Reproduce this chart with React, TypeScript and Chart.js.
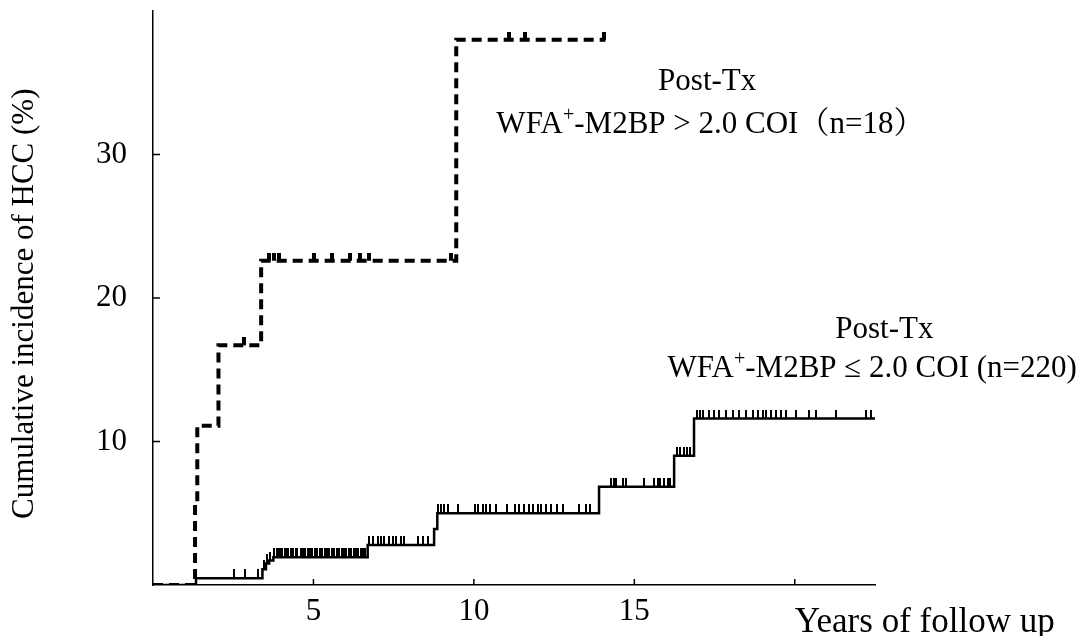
import React, { useEffect, useRef } from 'react';
import { Chart, registerables } from 'chart.js';

Chart.register(...registerables);

// ---- data ----
const highTimes = [0, 1.31, 1.38, 2.04, 3.37, 9.45, 14.1];
const highIncidence = [0, 5.6, 11.1, 16.7, 22.6, 38.0, 38.0];
const highCensorTimes = [2.85, 3.6, 3.78, 3.93, 5.01, 5.58, 6.15, 6.45, 6.72, 9.29, 11.1, 11.6, 14.05];

const lowTimes = [0, 1.34, 3.41, 3.52, 3.62, 3.75, 6.69, 8.76, 8.86, 13.9, 16.24, 16.86, 22.5];
const lowIncidence = [0, 0.47, 1.1, 1.5, 1.7, 1.93, 2.79, 3.9, 5.0, 6.85, 9.01, 11.6, 11.6];
const lowCensorTimes = [
  2.53, 2.88, 3.26, 3.45, 3.56, 3.66,
  3.78, 3.85, 3.9, 3.97, 4.03, 4.1, 4.15, 4.22, 4.3, 4.36, 4.45, 4.5, 4.6, 4.66, 4.75, 4.82, 4.9, 4.97,
  5.05, 5.12, 5.2, 5.28, 5.35, 5.42, 5.5, 5.58, 5.65, 5.72, 5.8, 5.88, 5.95, 6.03, 6.1, 6.18, 6.25,
  6.33, 6.4, 6.48, 6.55, 6.62,
  6.74, 6.85, 7.0, 7.11, 7.21, 7.37, 7.47, 7.58, 7.73, 7.83, 8.25, 8.4, 8.56,
  8.87, 8.97, 9.07, 9.18, 9.52, 10.02, 10.12, 10.27, 10.38, 10.51, 10.69, 11.03, 11.29, 11.42, 11.57,
  11.71, 11.85, 11.99, 12.09, 12.25, 12.4, 12.59, 12.77, 13.29, 13.5, 13.62,
  14.27, 14.36, 14.43, 14.64, 14.74, 15.29, 15.62, 15.73, 15.81, 15.93, 16.04, 16.12,
  16.33, 16.43, 16.54, 16.64, 16.74,
  16.96, 17.06, 17.15, 17.34, 17.49, 17.65, 17.86, 18.06, 18.27, 18.48, 18.69, 18.84, 19.0, 19.1,
  19.26, 19.41, 19.57, 19.73, 20.04, 20.45, 20.66, 21.28, 22.22, 22.38,
];

const xTickValues = [5, 10, 15, 20];
const xTickLabels = ['5', '10', '15', ''];
const yTickValues = [10, 20, 30];
const yTickLabels = ['10', '20', '30'];

const yAxisTitle = 'Cumulative incidence of HCC (%)';
const xAxisTitle = 'Years of follow up';
const highLabelTitle = 'Post-Tx';
const highLabelMain = ['WFA', '+', '-M2BP > 2.0 COI（n=18）'];
const lowLabelTitle = 'Post-Tx';
const lowLabelMain = ['WFA', '+', '-M2BP ≤ 2.0 COI (n=220)'];

// ---- layout / style (not data) ----
const SERIF = '"Liberation Serif", "Times New Roman", "Noto Serif CJK JP", "Noto Sans CJK JP", serif';
const annotationAnchors = [
  { x: 17.27, y: 35.05 },
  { x: 17.37, y: 32.1 },
  { x: 22.79, y: 17.77 },
  { x: 22.41, y: 15.05 },
];
const yTitleCenterValue = 19.6;

function levelAt(times: number[], values: number[], t: number) {
  let v = values[0];
  for (let i = 0; i < times.length; i++) if (times[i] <= t) v = values[i];
  return v;
}

function makeTick(w: number, h: number) {
  const c = document.createElement('canvas');
  c.width = w;
  c.height = h * 2;
  const g = c.getContext('2d')!;
  g.fillStyle = '#000';
  g.fillRect(0, 0, w, h);
  return c;
}

const overlayPlugin = {
  id: 'overlay',
  afterDraw(chart: any) {
    const { ctx, chartArea, scales } = chart;
    const xs = scales.x;
    const ys = scales.y;
    ctx.save();
    ctx.strokeStyle = '#000';
    ctx.lineWidth = 1.5;
    // inward tick marks
    xTickValues.forEach((v) => {
      const px = xs.getPixelForValue(v);
      ctx.beginPath();
      ctx.moveTo(px, chartArea.bottom);
      ctx.lineTo(px, chartArea.bottom - 6);
      ctx.stroke();
    });
    yTickValues.forEach((v) => {
      const py = ys.getPixelForValue(v);
      ctx.beginPath();
      ctx.moveTo(chartArea.left, py);
      ctx.lineTo(chartArea.left + 7, py);
      ctx.stroke();
    });
    ctx.fillStyle = '#000';
    ctx.textBaseline = 'middle';
    // x axis title
    ctx.font = `35px ${SERIF}`;
    ctx.textAlign = 'left';
    ctx.fillText(xAxisTitle, xs.getPixelForValue(20), chartArea.bottom + 38);

    // y axis title
    ctx.save();
    ctx.translate(25, ys.getPixelForValue(yTitleCenterValue));
    ctx.rotate(-Math.PI / 2);
    ctx.font = `31px ${SERIF}`;
    ctx.textAlign = 'center';
    ctx.fillText(yAxisTitle, 0, 0);
    ctx.restore();

    const drawCentered = (text: string, a: { x: number; y: number }) => {
      ctx.font = `31px ${SERIF}`;
      ctx.textAlign = 'center';
      ctx.fillText(text, xs.getPixelForValue(a.x), ys.getPixelForValue(a.y));
    };
    const drawSup = (parts: string[], a: { x: number; y: number }) => {
      const main = `31px ${SERIF}`;
      const sup = `20px ${SERIF}`;
      ctx.textAlign = 'left';
      ctx.font = main;
      const w0 = ctx.measureText(parts[0]).width;
      const w2 = ctx.measureText(parts[2]).width;
      ctx.font = sup;
      const w1 = ctx.measureText(parts[1]).width;
      const total = w0 + w1 + w2;
      let x = xs.getPixelForValue(a.x) - total / 2;
      const y = ys.getPixelForValue(a.y);
      ctx.font = main;
      ctx.fillText(parts[0], x, y);
      x += w0;
      ctx.font = sup;
      ctx.fillText(parts[1], x, y - 9);
      x += w1;
      ctx.font = main;
      ctx.fillText(parts[2], x, y);
    };
    drawCentered(highLabelTitle, annotationAnchors[0]);
    drawSup(highLabelMain, annotationAnchors[1]);
    drawCentered(lowLabelTitle, annotationAnchors[2]);
    drawSup(lowLabelMain, annotationAnchors[3]);
    ctx.restore();
  },
};

export default function App() {
  const ref = useRef<HTMLCanvasElement | null>(null);
  useEffect(() => {
    if (!ref.current) return;
    const tickHigh = makeTick(4, 8);
    const tickLow = makeTick(2, 9);
    const chart = new Chart(ref.current, {
      type: 'line',
      data: {
        datasets: [
          {
            label: 'high',
            data: highTimes.map((t, i) => ({ x: t, y: highIncidence[i] })),
            stepped: true,
            borderColor: '#000',
            borderWidth: 4,
            borderDash: [10, 6],
            borderCapStyle: 'butt',
            pointRadius: 0,
            fill: false,
          },
          {
            label: 'highCensor',
            data: highCensorTimes.map((t) => ({ x: t, y: levelAt(highTimes, highIncidence, t) })),
            showLine: false,
            pointStyle: tickHigh as any,
            pointRadius: 5,
            pointHoverRadius: 5,
          },
          {
            label: 'low',
            data: lowTimes.map((t, i) => ({ x: t, y: lowIncidence[i] })),
            stepped: true,
            borderColor: '#000',
            borderWidth: 2.5,
            pointRadius: 0,
            fill: false,
          },
          {
            label: 'lowCensor',
            data: lowCensorTimes.map((t) => ({ x: t, y: levelAt(lowTimes, lowIncidence, t) })),
            showLine: false,
            pointStyle: tickLow as any,
            pointRadius: 5,
            pointHoverRadius: 5,
          },
        ],
      },
      options: {
        animation: false,
        responsive: true,
        maintainAspectRatio: false,
        layout: { padding: { left: 0, right: 212, top: 11, bottom: 0 } },
        plugins: { legend: { display: false }, tooltip: { enabled: false } },
        events: [],
        scales: {
          x: {
            type: 'linear',
            min: 0,
            max: 22.5,
            afterBuildTicks: (s: any) => {
              s.ticks = xTickValues.map((v) => ({ value: v }));
            },
            afterFit: (s: any) => {
              s.height = 51;
              s.paddingLeft = 0;
              s.paddingRight = 0;
            },
            ticks: {
              autoSkip: false,
              maxRotation: 0,
              padding: 8,
              color: '#000',
              font: { family: SERIF, size: 31 },
              callback: (v: any) => xTickLabels[xTickValues.indexOf(Number(v))] ?? '',
            },
            grid: { display: false, drawTicks: false },
            border: { display: true, color: '#000', width: 1.5 },
          },
          y: {
            type: 'linear',
            min: 0,
            max: 40,
            afterBuildTicks: (s: any) => {
              s.ticks = yTickValues.map((v) => ({ value: v }));
            },
            afterFit: (s: any) => {
              s.width = 153;
              s.paddingTop = 0;
              s.paddingBottom = 0;
            },
            ticks: {
              autoSkip: false,
              padding: 26,
              color: '#000',
              font: { family: SERIF, size: 31 },
              callback: (v: any) => yTickLabels[yTickValues.indexOf(Number(v))] ?? '',
            },
            grid: { display: false, drawTicks: false },
            border: { display: true, color: '#000', width: 1.5 },
            title: { display: false },
          },
        },
      },
      plugins: [overlayPlugin],
    } as any);
    return () => chart.destroy();
  }, []);
  return (
    <div style={{ position: 'fixed', left: 0, top: 0, width: 1087, height: 636, background: '#fff' }}>
      <canvas ref={ref} />
    </div>
  );
}
